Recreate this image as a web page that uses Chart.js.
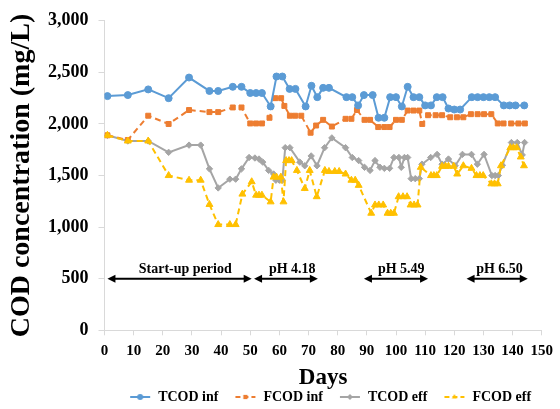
<!DOCTYPE html>
<html>
<head>
<meta charset="utf-8">
<script src="https://cdn.jsdelivr.net/npm/chart.js@4.4.1/dist/chart.umd.min.js"></script>
<style>
  html, body { margin: 0; padding: 0; background: #fff; }
  #wrap { width: 560px; height: 409px; }
</style>
</head>
<body>
<div id="wrap"><canvas id="codChart" width="560" height="409"></canvas></div>
<script>
// ===== data =====
const tcodInfDays = [1, 8, 15, 22, 29, 36, 39, 44, 47, 50, 52, 54, 57, 59, 61, 63.5, 65.5, 69, 71, 73, 75, 77, 83, 85, 87, 89, 92, 94, 96, 98, 100, 102, 104, 106, 108, 110, 112, 114, 116, 118, 120, 122, 126, 128, 130, 132, 134, 137, 139, 141, 144];
const tcodInfValues = [2270, 2280, 2335, 2250, 2450, 2320, 2320, 2360, 2360, 2300, 2300, 2300, 2170, 2460, 2460, 2340, 2340, 2170, 2370, 2260, 2350, 2350, 2260, 2260, 2180, 2280, 2280, 2060, 2060, 2260, 2260, 2170, 2360, 2260, 2260, 2180, 2180, 2260, 2260, 2150, 2140, 2140, 2260, 2260, 2260, 2260, 2260, 2180, 2180, 2180, 2180];

const fcodInfDays = [1, 8, 15, 22, 29, 36, 39, 44, 47, 50, 52, 54, 56.6, 58.6, 60.6, 61.7, 63.6, 65.4, 67.5, 70.7, 72.6, 75, 78, 82.7, 84.7, 86.6, 89.2, 91.1, 93.9, 96, 97.8, 100, 102, 104, 106, 108, 109, 111, 113.6, 115.8, 118.6, 120.9, 123.1, 125.7, 128, 130.2, 132.7, 134.9, 136.9, 139.5, 142, 144.2];
const fcodInfValues = [1890, 1845, 2080, 2000, 2135, 2115, 2115, 2160, 2160, 2005, 2005, 2005, 2060, 2250, 2250, 2175, 2080, 2080, 2080, 1915, 1985, 2040, 1975, 2050, 2050, 2135, 2040, 2040, 1970, 1970, 1970, 2040, 2040, 2130, 2130, 2130, 2000, 2085, 2085, 2085, 2065, 2065, 2065, 2095, 2095, 2095, 2095, 2005, 2005, 2005, 2005, 2005];

const tcodEffDays = [1, 8, 15, 22, 29, 33, 36, 39, 43, 45, 47, 49.6, 51.6, 53, 54.3, 56.3, 58, 58.8, 60, 61, 62, 63.6, 67, 68.7, 70.9, 72.9, 75.5, 78, 82.7, 85, 87.2, 89.2, 91.1, 92.8, 94.5, 96, 97.8, 99.3, 101, 101.8, 102.9, 104, 105.2, 106.6, 108, 108.9, 111.9, 114.1, 115.8, 118, 120.3, 122.8, 125.9, 127.9, 130.2, 132.9, 134, 135.1, 136.5, 139.6, 141.6, 143.3, 144.1];
const tcodEffValues = [1890, 1835, 1835, 1725, 1795, 1795, 1565, 1380, 1465, 1465, 1565, 1675, 1670, 1660, 1630, 1550, 1515, 1455, 1455, 1455, 1770, 1770, 1630, 1595, 1690, 1595, 1770, 1865, 1770, 1675, 1645, 1580, 1550, 1645, 1580, 1570, 1570, 1675, 1675, 1580, 1675, 1675, 1470, 1470, 1470, 1610, 1675, 1705, 1610, 1660, 1595, 1705, 1705, 1610, 1705, 1500, 1500, 1500, 1600, 1820, 1820, 1700, 1820];

const fcodEffDays = [1, 8, 15, 22, 29, 33, 36, 39, 43, 45, 47.3, 50.5, 52, 53, 54, 57, 58, 59, 60.5, 61.4, 62.3, 63.3, 64.2, 66, 68.7, 70.4, 72.8, 75.6, 77, 79, 80.5, 82.7, 84.7, 86, 87.2, 91.5, 92.8, 94.1, 95.6, 97.1, 98.2, 99.3, 100.9, 102.4, 103.8, 105, 106.2, 107.4, 108.5, 112, 113, 114, 115.8, 117, 118, 119.8, 121, 123.1, 125.9, 127.6, 128.8, 129.9, 132.7, 133.8, 134.9, 136, 139.2, 140.3, 141.4, 142.8, 143.9];
const fcodEffValues = [1890, 1835, 1835, 1500, 1455, 1455, 1220, 1025, 1025, 1025, 1320, 1440, 1310, 1310, 1310, 1245, 1485, 1485, 1485, 1245, 1645, 1645, 1645, 1550, 1375, 1550, 1295, 1550, 1540, 1540, 1540, 1515, 1455, 1455, 1405, 1135, 1215, 1215, 1215, 1135, 1135, 1135, 1295, 1295, 1295, 1215, 1215, 1215, 1580, 1500, 1500, 1500, 1590, 1590, 1590, 1590, 1515, 1595, 1570, 1500, 1500, 1500, 1420, 1420, 1420, 1595, 1770, 1770, 1770, 1680, 1595];

const seriesNames = ["TCOD inf", "FCOD inf", "TCOD eff", "FCOD eff"];

// operating periods (double arrows at 500 mg/L)
const periodLabels = ["Start-up period", "pH 4.18", "pH 5.49", "pH 6.50"];
const periodStart = [1, 51.3, 89, 124.2];
const periodEnd = [50.5, 73.2, 111, 145.2];
const periodLabelDay = [27.7, 64.4, 101.8, 135.5];
const periodLevel = 500;

// ===== styling =====
const SERIF = "'Liberation Serif', 'Times New Roman', serif";
const colors = ["#5B9BD5", "#ED7D31", "#A5A5A5", "#FFC000"];
const markers = ["circle", "rect", "rectRot", "triangle"];
const radii = [3.5, 3.5, 3.2, 4];
const dashes = [[], [6, 4], [], [6, 4]];

function toPoints(days, vals) {
  return days.map((d, i) => ({ x: d, y: vals[i] }));
}

// line+marker icons for the legend (left part left blank as spacing)
function makeIcon(i) {
  const c = document.createElement("canvas");
  c.width = 36; c.height = 10;
  const g = c.getContext("2d");
  g.strokeStyle = colors[i];
  g.lineWidth = 2;
  g.setLineDash(dashes[i].length ? [5, 3] : []);
  g.beginPath(); g.moveTo(15, 5); g.lineTo(35, 5); g.stroke();
  g.setLineDash([]);
  g.fillStyle = colors[i];
  Chart.helpers.drawPoint(g, { pointStyle: markers[i], radius: 3, borderWidth: 0 }, 25, 5);
  return c;
}

const allData = [
  toPoints(tcodInfDays, tcodInfValues),
  toPoints(fcodInfDays, fcodInfValues),
  toPoints(tcodEffDays, tcodEffValues),
  toPoints(fcodEffDays, fcodEffValues),
];

const datasets = allData.map((pts, i) => ({
  label: seriesNames[i],
  data: pts,
  borderColor: colors[i],
  backgroundColor: colors[i],
  borderWidth: 2,
  borderDash: dashes[i],
  pointStyle: markers[i],
  pointRadius: radii[i],
  pointBorderWidth: 1,
  pointBackgroundColor: colors[i],
  pointBorderColor: colors[i],
  tension: 0,
  fill: false,
  order: i === 3 ? 0 : i + 1,
}));

// ===== period arrows plugin =====
const periodArrows = {
  id: "periodArrows",
  afterDatasetsDraw(chart) {
    const { ctx, scales: { x, y } } = chart;
    const py = y.getPixelForValue(periodLevel);
    ctx.save();
    ctx.strokeStyle = "#000";
    ctx.fillStyle = "#000";
    ctx.lineWidth = 2;
    periodLabels.forEach((lbl, i) => {
      const x1 = x.getPixelForValue(periodStart[i]);
      const x2 = x.getPixelForValue(periodEnd[i]);
      ctx.beginPath();
      ctx.moveTo(x1 + 5, py);
      ctx.lineTo(x2 - 5, py);
      ctx.stroke();
      ctx.beginPath();
      ctx.moveTo(x1, py); ctx.lineTo(x1 + 8, py - 4); ctx.lineTo(x1 + 8, py + 4); ctx.closePath();
      ctx.fill();
      ctx.beginPath();
      ctx.moveTo(x2, py); ctx.lineTo(x2 - 8, py - 4); ctx.lineTo(x2 - 8, py + 4); ctx.closePath();
      ctx.fill();
      ctx.font = "bold 14px " + SERIF;
      ctx.textAlign = "center";
      ctx.textBaseline = "alphabetic";
      ctx.fillText(lbl, x.getPixelForValue(periodLabelDay[i]), py - 6);
    });
    ctx.restore();
  },
};

// ===== chart =====
const ctx = document.getElementById("codChart").getContext("2d");
const chart = new Chart(ctx, {
  type: "line",
  data: { datasets },
  plugins: [periodArrows],
  options: {
    responsive: false,
    animation: false,
    layout: { padding: { top: -3, right: 0, left: 2, bottom: -5 } },
    scales: {
      x: {
        type: "linear",
        min: 0,
        max: 150,
        ticks: {
          stepSize: 10, maxRotation: 0, autoSkip: false,
          color: "#000", font: { family: SERIF, size: 15, weight: "bold" }, padding: 7,
        },
        grid: { drawOnChartArea: false, drawTicks: true, tickLength: 5, color: "#D9D9D9" },
        border: { color: "#D9D9D9" },
        title: {
          display: true, text: "Days", color: "#000",
          font: { family: SERIF, size: 23, weight: "bold", lineHeight: 0.9 },
          padding: { top: 0, bottom: 0 },
        },
      },
      y: {
        min: 0,
        max: 3000,
        ticks: {
          stepSize: 500,
          color: "#000",
          font: { family: SERIF, size: 18, weight: "bold" },
          padding: 10,
          callback: (v) => v.toLocaleString("en-US"),
        },
        grid: { drawOnChartArea: false, drawTicks: true, tickLength: 6, color: "#D9D9D9" },
        border: { color: "#D9D9D9" },
        title: {
          display: true, text: "COD concentration (mg/L)", color: "#000",
          font: { family: SERIF, size: 28, weight: "bold", lineHeight: 1 },
          padding: { top: 6, bottom: 2 },
        },
      },
    },
    plugins: {
      tooltip: { enabled: false },
      legend: {
        position: "bottom",
        fullSize: false,
        labels: {
          usePointStyle: true,
          pointStyleWidth: 36,
          padding: 2,
          color: "#000",
          font: { family: SERIF, size: 14, weight: "bold" },
          sort: (a, b) => a.datasetIndex - b.datasetIndex,
          generateLabels(ch) {
            const items = Chart.defaults.plugins.legend.labels.generateLabels(ch);
            items.forEach((it) => { it.pointStyle = makeIcon(it.datasetIndex); });
            return items;
          },
        },
      },
    },
  },
});
</script>
</body>
</html>
